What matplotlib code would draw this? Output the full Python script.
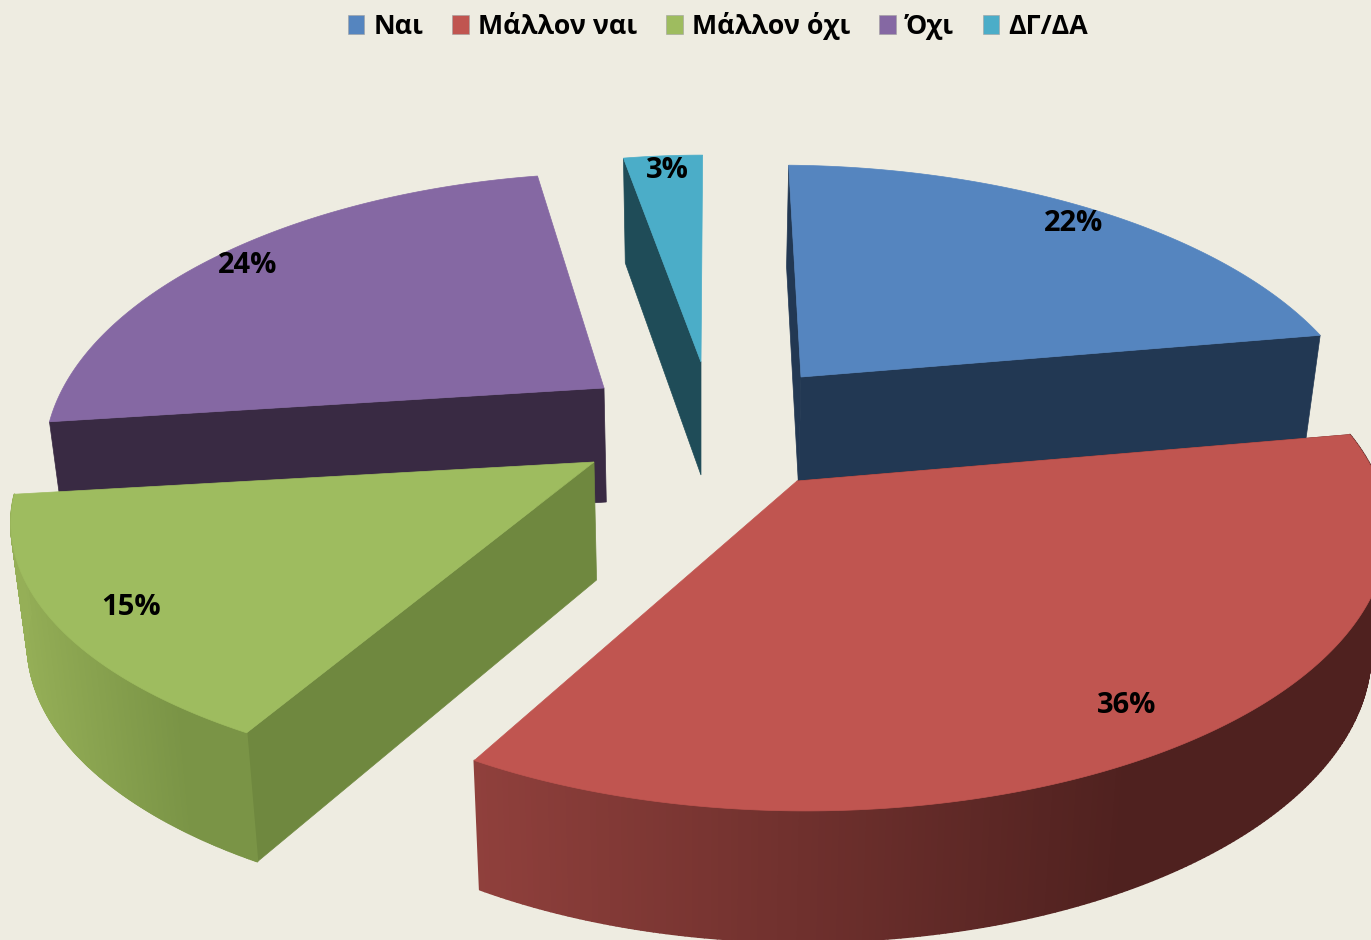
import numpy as np
import matplotlib
matplotlib.use('Agg')
import matplotlib.pyplot as plt
from matplotlib.collections import PolyCollection
from matplotlib.colors import to_rgb
from matplotlib.patches import Patch, Polygon

categories = ['Ναι', 'Μάλλον ναι', 'Μάλλον όχι', 'Όχι', 'ΔΓ/ΔΑ']
values = [22, 36, 15, 24, 3]

# exploded slice centres and per slice projection, in pixels
centre_x = [801, 797, 594, 604, 701]
centre_y = [377, 481, 462, 388, 362]
radius_x = [553, 591, 567, 541, 513]
radius_y = [258, 258, 250, 262, 252]
skew = [-15, -27, 9, 21, 2]
slant = [5, 0, 0, 0, 0]
squeeze = [0, 40, 0, 0, 0]
depth = [110, 118, 118, 114, 113]
show_arc = [False, True, True, False, False]
show_end_face = [True, False, False, False, False]
label_r = [0.88, 0.72, 0.83, 0.93, 0.91]
label_dx = [11, 54, -25, -3, 2]
label_dy = [-4, 52, 16, 5, -1]

top_colors = ['#5585BF', '#C05550', '#9EBC5F', '#8568A3', '#4BADC8']
side_colors = ['#223853', '#4F211F', '#6F883F', '#392A43', '#1F4C58']
arc_left = ['#223853', '#90403C', '#95AF57', '#392A43', '#1F4C58']
arc_right = ['#223853', '#4F211F', '#7A9446', '#392A43', '#1F4C58']
BG = '#EEECE1'
TILT = 0.218


def project(theta, i, r=1.0, t0=0.0, t1=1.0):
    ux, uy = r * np.sin(theta), r * np.cos(theta)
    den = 1 + TILT * uy
    bulge = np.sin(np.pi * np.clip((theta - t0) / (t1 - t0), 0, 1))
    x = centre_x[i] + (radius_x[i] * ux + skew[i] * uy) / den - squeeze[i] * bulge * r
    y = centre_y[i] + (slant[i] * ux - radius_y[i] * uy) / den
    return x, y


def drop(x, y, i):
    return x + (700 - x) * 0.024, y + depth[i] + 0.04 * (y - centre_y[i])


def draw_slice(ax, i, t0, t1):
    theta = np.linspace(t0, t1, 240)
    x, y = project(theta, i, 1.0, t0, t1)
    bx, by = drop(x, y, i)
    cx, cy = centre_x[i], centre_y[i]
    cbx, cby = drop(cx, cy, i)

    for k in (0, -1):
        if k == -1 and not show_end_face[i]:
            continue
        face = [(cx, cy), (x[k], y[k]), (bx[k], by[k]), (cbx, cby)]
        ax.add_patch(Polygon(face, fc=side_colors[i], ec=side_colors[i], lw=0.5))

    if show_arc[i]:
        quads = [[(x[k], y[k]), (x[k + 1], y[k + 1]), (bx[k + 1], by[k + 1]), (bx[k], by[k])]
                 for k in range(len(x) - 1)]
        left, right = np.array(to_rgb(arc_left[i])), np.array(to_rgb(arc_right[i]))
        span = np.clip((x[:-1] - x.min()) / (0.72 * np.ptp(x)), 0, 1)[:, None]
        colors = left + (right - left) * span
        ax.add_collection(PolyCollection(quads, facecolors=colors, edgecolors=colors, linewidths=1.2))

    top = np.column_stack([np.r_[cx, x], np.r_[cy, y]])
    ax.add_patch(Polygon(top, fc=top_colors[i], ec=top_colors[i], lw=0.5))


def build_chart():
    fig = plt.figure(figsize=(13.71, 9.4), dpi=100, facecolor=BG)
    ax = fig.add_axes([0, 0, 1, 1])
    ax.set_xlim(0, 1371)
    ax.set_ylim(940, 0)
    ax.axis('off')

    edges = np.r_[0, np.cumsum(values)] / sum(values) * 2 * np.pi
    for i in [4, 3, 0, 2, 1]:
        draw_slice(ax, i, edges[i], edges[i + 1])

    for i, v in enumerate(values):
        mid = (edges[i] + edges[i + 1]) / 2
        lx, ly = project(mid, i, label_r[i], edges[i], edges[i + 1])
        ax.text(lx + label_dx[i], ly + label_dy[i], f'{v}%', ha='center', va='center', fontsize=21,
                family='Open Sans', weight='bold', color='black')

    handles = [Patch(fc=c, ec='#A0A0A0', lw=0.4, label=n) for c, n in zip(top_colors, categories)]
    ax.legend(handles=handles, loc='center', bbox_to_anchor=(718 / 1371, 1 - 26 / 940), ncol=5,
              frameon=False, handlelength=0.62, handleheight=0.7, handletextpad=0.34,
              columnspacing=1.08, prop={'family': 'Open Sans', 'weight': 'bold', 'size': 19.3})

    fig.savefig('out.png', dpi=100, facecolor=BG)


if __name__ == "__main__":
    build_chart()
